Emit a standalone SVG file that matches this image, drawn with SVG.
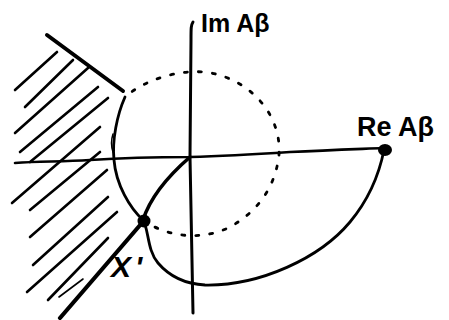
<svg xmlns="http://www.w3.org/2000/svg" width="449" height="320" viewBox="0 0 449 320">
<style>
.ln{fill:none;stroke:#000;stroke-linecap:round;stroke-linejoin:round}
.h{stroke-width:2.6}
.lbl{font-family:"Liberation Sans",Arial,sans-serif;font-weight:bold;fill:#000}
</style>
<rect width="449" height="320" fill="#fff"/>
<g id="hatching" class="ln h">
<path d="M15,90 L57,52"/>
<path d="M25,107 L73,60"/>
<path d="M15,133 L88,68"/>
<path d="M20,152 L98,87"/>
<path d="M30,162 L108,98"/>
<path d="M12,203 L100,127"/>
<path d="M30,210 L100,152"/>
<path d="M30,237 L107,170"/>
<path d="M33,265 L108,197"/>
<path d="M27,292 L117,212"/>
<path d="M48,300 L108,238"/>
<path d="M59,297 L83,279" style="stroke-width:1.6"/>
</g>
<g id="boundary" class="ln">
<path d="M47,35 L123,91" style="stroke-width:4"/>
<path d="M141,224 L60,318" style="stroke-width:4.2"/>
</g>
<g id="axes" class="ln">
<path d="M15,163 C40,161 60,162 90,160 C120,158 160,157 190,157 C230,156 260,154 290,152 C330,150 360,149 384,148" style="stroke-width:2.6"/>
<path d="M193,22 C191,25 191,28 191,40 L190,157 C191,200 192,250 193,313" style="stroke-width:3"/>
</g>
<g id="unit-circle" class="ln">
<path d="M143,220 C165,236 200,242 230,227 C255,213 275,190 279,155 C282,115 250,78 205,72 C175,70 148,80 130,93" style="stroke-width:2.8;stroke-dasharray:3 11"/>
</g>
<g id="nyquist-curve" class="ln">
<path d="M125,97 C117,115 112,140 114,160 C116,185 130,208 143,220 C149,230 147,250 158,263 C170,277 185,284 205,285 C260,286 320,258 350,222 C370,198 380,170 384,150" style="stroke-width:2.8"/>
<path d="M113,134 C111,140 111,146 113,152" style="stroke-width:1.5"/>
<path d="M190,157 C175,170 152,192 143,220" style="stroke-width:3.6"/>
</g>
<g id="point-X">
<circle cx="144" cy="221" r="6.5" fill="#000"/>
<text class="lbl" x="111" y="277" font-size="30" font-style="italic" letter-spacing="4">X'</text>
</g>
<g id="point-Re">
<ellipse cx="385" cy="150" rx="7" ry="6" fill="#000"/>
</g>
<g id="labels">
<text class="lbl" x="201" y="32" font-size="25">Im Aβ</text>
<text class="lbl" x="357" y="136" font-size="27">Re Aβ</text>
</g>
</svg>
